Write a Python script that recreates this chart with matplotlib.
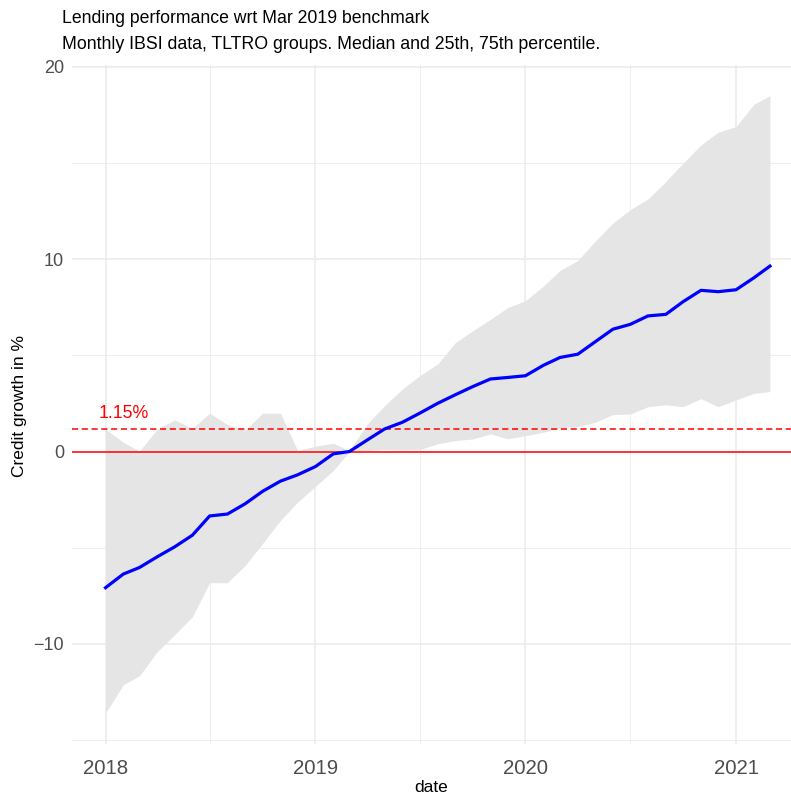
import numpy as np
import pandas as pd
import matplotlib
matplotlib.use("Agg")
import matplotlib.pyplot as plt
import matplotlib.dates as mdates

plt.rcParams['font.family'] = ['Liberation Sans', 'DejaVu Sans']

dates = pd.date_range("2018-01-01", periods=39, freq="MS")

median = [-7.08, -6.37, -6.03, -5.47, -4.96, -4.35, -3.35, -3.25, -2.71, -2.07, -1.54, -1.21,
          -0.78, -0.12, 0.0, 0.6, 1.17, 1.52, 1.99, 2.5, 2.95, 3.37, 3.77, 3.85,
          3.94, 4.48, 4.89, 5.06, 5.70, 6.36, 6.61, 7.05, 7.13, 7.79, 8.38, 8.31,
          8.41, 9.03, 9.64]
p75 = [1.17, 0.48, 0.02, 1.17, 1.64, 1.21, 1.99, 1.40, 1.12, 1.99, 1.99, 0.05,
       0.28, 0.43, 0.05, 1.43, 2.38, 3.25, 3.94, 4.54, 5.66, 6.27, 6.87, 7.48,
       7.84, 8.6, 9.41, 9.93, 10.93, 11.88, 12.57, 13.13, 14.04, 14.99, 15.94, 16.6,
       16.89, 18.05, 18.5]
p25 = [-13.6, -12.12, -11.66, -10.4, -9.53, -8.59, -6.82, -6.82, -5.91, -4.78, -3.58, -2.63,
       -1.81, -0.98, 0.0, 0.05, 0.1, 0.08, 0.1, 0.4, 0.57, 0.65, 0.92, 0.66,
       0.83, 1.0, 1.23, 1.3, 1.52, 1.92, 1.95, 2.33, 2.43, 2.33, 2.75, 2.33,
       2.68, 3.02, 3.12]
benchmark = 1.15

fig = plt.figure(figsize=(7.91, 8.0), dpi=100)
# panel runs a bit past the right edge, like the cropped original
ax = fig.add_axes([0.0914, 0.07, 0.924, 0.849])

ax.fill_between(dates, p25, p75, color="#E5E5E5", lw=0, zorder=2)
ax.axhline(0, color="red", lw=1.1, zorder=3)
ax.axhline(benchmark, color="red", lw=1.1, ls=(0, (4, 2.4)), zorder=3)
ax.plot(dates, median, color="blue", lw=2.3, zorder=4)
ax.text(pd.Timestamp("2018-02-01"), 2.0, "1.15%", color="red", fontsize=12.8,
        ha="center", va="center")

# 5% expansion like ggplot
span = dates[-1] - dates[0]
ax.set_xlim(dates[0] - span * 0.05, dates[-1] + span * 0.05)
yr = max(p75) - min(p25)
ax.set_ylim(min(p25) - yr * 0.05, max(p75) + yr * 0.05)

ax.xaxis.set_major_locator(mdates.YearLocator())
ax.xaxis.set_major_formatter(mdates.DateFormatter("%Y"))
ax.xaxis.set_minor_locator(mdates.MonthLocator(bymonth=7))
ax.set_yticks([-10, 0, 10, 20])
ax.set_yticks([-15, -5, 5, 15], minor=True)

ax.grid(which="major", color="#EBEBEB", lw=1.1, zorder=0)
ax.grid(which="minor", color="#EBEBEB", lw=0.6, zorder=0)
ax.set_axisbelow(True)
for s in ax.spines.values():
    s.set_visible(False)
ax.tick_params(which="both", length=0)
ax.tick_params(axis="x", labelsize=14.7, labelcolor="#4D4D4D", pad=10.5)
ax.tick_params(axis="y", labelsize=13, labelcolor="#4D4D4D", pad=6)

fig.text(431 / 791, 1 - 788 / 800, "date", fontsize=12.5, ha="center", va="center")
fig.text(20 / 791, 1 - 406 / 800, "Credit growth in %", fontsize=12.5, rotation=90,
         ha="center", va="center")

fig.text(0.078, 1 - 23 / 800, "Lending performance wrt Mar 2019 benchmark", fontsize=12.7,
         ha="left", va="baseline")
fig.text(0.078, 1 - 49 / 800, "Monthly IBSI data, TLTRO groups. Median and 25th, 75th percentile.",
         fontsize=12.8, ha="left", va="baseline")

fig.savefig("out.png", dpi=100)
